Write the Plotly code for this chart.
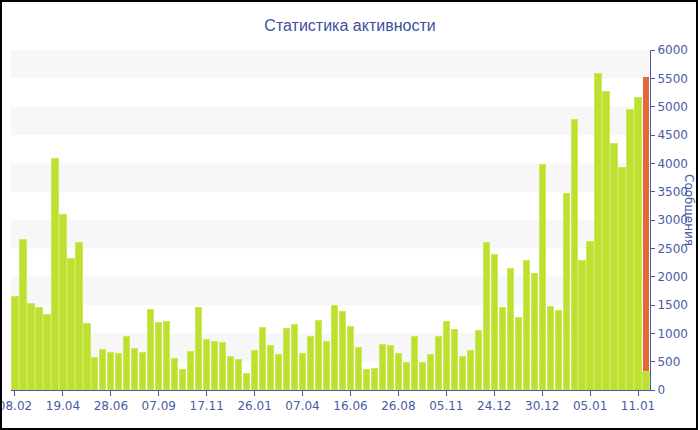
import plotly.graph_objects as go

title_text = "Статистика активности"
y_title = "Сообщения"

tick_labels = ["08.02", "19.04", "28.06", "07.09", "17.11", "26.01", "07.04",
               "16.06", "26.08", "05.11", "24.12", "30.12", "05.01", "11.01"]
tick_step = 6

main_values = [1650, 2650, 1530, 1450, 1340, 4080, 3100, 2320, 2600, 1180,
               580, 720, 670, 650, 950, 730, 660, 1420, 1200, 1210,
               550, 370, 680, 1450, 900, 850, 840, 600, 540, 290,
               690, 1100, 790, 630, 1090, 1150, 640, 950, 1220, 850,
               1500, 1390, 1120, 750, 360, 380, 810, 780, 650, 480,
               950, 480, 630, 950, 1210, 1070, 600, 690, 1050, 2600,
               2400, 1450, 2150, 1280, 2280, 2050, 3980, 1480, 1400, 3470,
               4780, 2280, 2620, 5580, 5260, 4350, 3930, 4950, 5170, 330]
extra_values = [None] * 79 + [5200]

x = list(range(len(main_values)))
tickvals = [i * tick_step for i in range(len(tick_labels))]

blue = "#4a5ba3"
green = "#bde130"
orange = "#e4683a"

fig = go.Figure()
fig.add_bar(x=x, y=main_values, marker=dict(color=green, line=dict(color="#cde85a", width=1)),
            hoverinfo="y")
fig.add_bar(x=x, y=extra_values, marker=dict(color=orange, line=dict(width=0)),
            hoverinfo="y")

shapes = []
for lo in range(500, 6000, 1000):
    shapes.append(dict(type="rect", xref="paper", yref="y", x0=0, x1=1, y0=lo, y1=lo + 500,
                       fillcolor="#f7f7f7", line=dict(width=0), layer="below"))

W, H = 700, 430
ml, mr, mt, mb = 11, 50, 50, 40
pw = W - ml - mr
ph = H - mt - mb
shapes.append(dict(type="rect", xref="paper", yref="paper",
                   x0=(1 - ml) / pw, x1=(697 - ml) / pw,
                   y0=-(429 - mt - ph) / ph, y1=1 + (mt - 1) / ph,
                   line=dict(color="black", width=2), fillcolor="rgba(0,0,0,0)", layer="above"))

fig.update_layout(
    width=W, height=H,
    margin=dict(l=ml, r=mr, t=mt, b=mb, autoexpand=False),
    paper_bgcolor="white", plot_bgcolor="white",
    barmode="stack", bargap=0.22, showlegend=False,
    title=dict(text=title_text, x=0.5, xanchor="center", y=0.94, yanchor="middle",
               font=dict(family="Liberation Sans, Arial", size=16, color="#3d4f9f")),
    font=dict(family="DejaVu Sans, Verdana", size=12, color=blue),
    shapes=shapes,
    xaxis=dict(type="linear", range=[-0.5, len(x) - 0.5], tickvals=tickvals, ticktext=tick_labels,
               automargin=False, ticklabeloverflow="allow",
               showgrid=False, zeroline=False, showline=True, linecolor=blue, linewidth=1,
               ticks="outside", ticklen=5, tickcolor=blue, tickfont=dict(size=12, color=blue)),
    yaxis=dict(side="right", range=[0, 6000], dtick=500, showgrid=False, zeroline=False,
               automargin=False, ticklabeloverflow="allow",
               showline=True, linecolor=blue, linewidth=1, ticks="outside", ticklen=4,
               tickcolor=blue, tickfont=dict(size=12, color=blue)),
    annotations=[dict(text=y_title, xref="paper", yref="paper", x=(689 - ml) / pw,
                      y=1 - (210 - mt) / ph, textangle=90, showarrow=False,
                      xanchor="center", yanchor="middle",
                      font=dict(family="DejaVu Sans, Verdana", size=12, color=blue))],
)

fig.write_html("out.html", config={"displayModeBar": False},
               post_script="document.body.style.margin='0';document.body.style.overflow='hidden';")
